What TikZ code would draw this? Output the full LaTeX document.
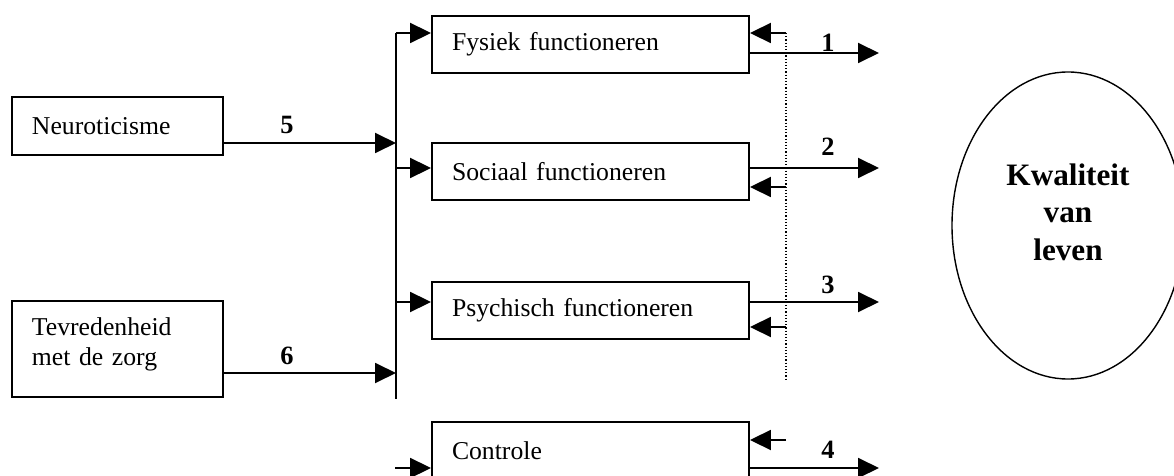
\documentclass[tikz,border=0pt]{standalone}
\usepackage{fontspec}
\setmainfont{Liberation Serif}
\usetikzlibrary{arrows.meta,shapes.geometric}
\begin{document}
\begin{tikzpicture}[x=0.5pt,y=-0.5pt,
  ln/.style={line width=0.95pt},
  arr/.style={line width=0.95pt,-{Triangle[length=10.5pt,width=10pt]}},
  box/.style={draw,line width=0.95pt,minimum height=28.5pt,inner xsep=10pt,inner ysep=0pt,
    text width=138.5pt,align=left,font=\fontsize{12.85pt}{15pt}\selectfont},
  lbox/.style={draw,line width=0.95pt,inner xsep=10pt,inner ysep=0pt,
    text width=85.5pt,align=left,font=\fontsize{12.85pt}{15pt}\selectfont},
  num/.style={font=\fontsize{13.2pt}{15pt}\selectfont\bfseries,inner sep=0pt},
  dotl/.style={line width=0.6pt,densely dotted}]
\useasboundingbox (0,0) rectangle (1174,476);
\clip (0,0) rectangle (1174,476);
% boxes
\node[lbox,minimum height=29pt] (neu) at (117.5,126) {Neuroticisme};
\node[lbox,minimum height=48pt] (tev) at (117.5,349) {\raisebox{2pt}[\height][\depth]{\begin{tabular}{@{}l@{}}Tevredenheid\\met de zorg\end{tabular}}};
\node[box] (fys) at (590.5,44.5) {Fysiek functioneren};
\node[box] (soc) at (590.5,171.5) {Sociaal functioneren};
\node[box] (psy) at (590.5,310.5) {Psychisch functioneren};
\node[box] (con) at (590.5,450.5) {Controle};
\node[draw,ellipse,line width=0.7pt,minimum width=116pt,minimum height=153.5pt,inner sep=0pt,
  font=\fontsize{15.6pt}{18.75pt}\selectfont\bfseries] (kvl) at (1068,225.5)
  {\raisebox{5pt}[\height][\depth]{\begin{tabular}{@{}c@{}}Kwaliteit\\van\\leven\end{tabular}}};
% bus
\coordinate (bt) at (396,33);
\coordinate (bb) at (396,399);
\draw[ln] (bt) -- (bb);
% inputs from left boxes
\coordinate (i5) at (396,143);
\coordinate (i6) at (396,373);
\draw[arr] (neu.east |- i5) -- (i5);
\draw[arr] (tev.east |- i6) -- (i6);
\node[num] (n5) at (287,125) {5};
\node[num] (n6) at (287,356) {6};
% arrows into the functioning boxes
\coordinate (o1) at (879,53);
\coordinate (o2) at (879,168);
\coordinate (o3) at (879,302);
\coordinate (o4) at (879,468);
\coordinate (c4) at (395,468);
\draw[arr] (bt) -- (fys.west |- bt);
\draw[arr] (bt |- o2) -- (soc.west |- o2);
\draw[arr] (bt |- o3) -- (psy.west |- o3);
\draw[arr] (c4) -- (con.west |- c4);
% outputs
\draw[arr] (fys.east |- o1) -- (o1);
\draw[arr] (soc.east |- o2) -- (o2);
\draw[arr] (psy.east |- o3) -- (o3);
\draw[arr] (con.east |- o4) -- (o4);
\node[num] (n1) at (828,43) {1};
\node[num] (n2) at (828,147) {2};
\node[num] (n3) at (828,285) {3};
\node[num] (n4) at (828,450) {4};
% feedback
\coordinate (f1) at (786,33);
\coordinate (f2) at (786,187);
\coordinate (f3) at (786,327);
\coordinate (f4) at (786,440);
\coordinate (db) at (786,380);
\draw[dotl] (f1) -- (db);
\draw[arr] (f1) -- (fys.east |- f1);
\draw[arr] (f2) -- (soc.east |- f2);
\draw[arr] (f3) -- (psy.east |- f3);
\draw[arr] (f4) -- (con.east |- f4);
\end{tikzpicture}
\end{document}
